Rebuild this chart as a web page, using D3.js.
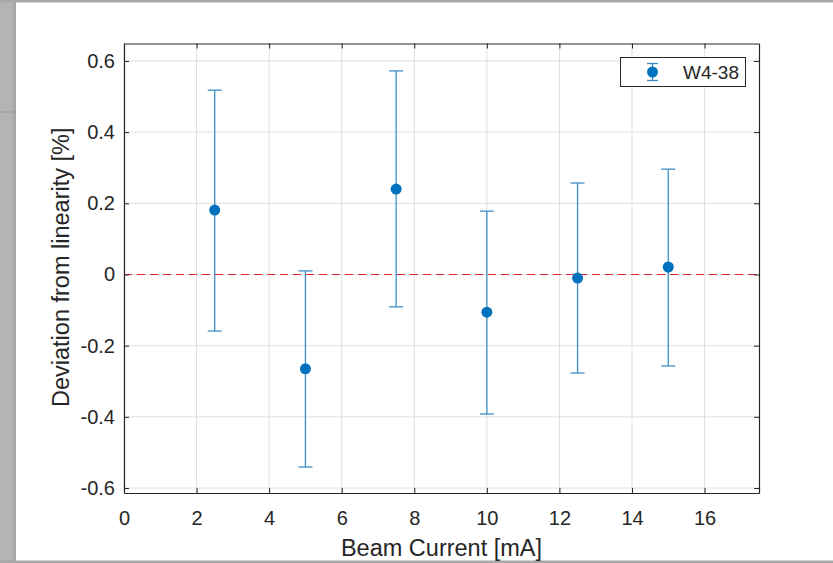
<!DOCTYPE html>
<html>
<head>
<meta charset="utf-8">
<script src="https://cdn.jsdelivr.net/npm/d3@7"></script>
<style>
  body { margin: 0; background: #fff; }
  svg { display: block; font-family: "Liberation Sans", Arial, sans-serif; }
</style>
</head>
<body>
<svg id="chart" width="833" height="563"></svg>
<script>
// data
const currents = [2.5, 5, 7.5, 10, 12.5, 15];
const deviation = [0.181, -0.265, 0.240, -0.106, -0.010, 0.021];
const errUpper = [0.518, 0.010, 0.572, 0.178, 0.257, 0.296];
const errLower = [-0.159, -0.541, -0.091, -0.392, -0.277, -0.257];
const xTicks = [0, 2, 4, 6, 8, 10, 12, 14, 16];
const yTicks = [-0.6, -0.4, -0.2, 0, 0.2, 0.4, 0.6];
const yTickLabels = ["-0.6", "-0.4", "-0.2", "0", "0.2", "0.4", "0.6"];
const seriesName = "W4-38";

const svg = d3.select("#chart");
const W = 833, H = 563;

// screenshot frame (gray strips)
svg.append("rect").attr("x", 0).attr("y", 0).attr("width", 16).attr("height", H).attr("fill", "#b4b4b4");
svg.append("rect").attr("x", 13).attr("y", 0).attr("width", 3).attr("height", H).attr("fill", "#a6a6a6");
svg.append("line").attr("x1", 0).attr("x2", 16).attr("y1", 112).attr("y2", 112).attr("stroke", "#9a9a9a");
svg.append("rect").attr("x", 0).attr("y", 0).attr("width", W).attr("height", 2.5).attr("fill", "#a8a8a8");
svg.append("rect").attr("x", 0).attr("y", 560.5).attr("width", W).attr("height", 2.5).attr("fill", "#a8a8a8");

const pLeft = 124, pRight = 759, pTop = 43.5, pBottom = 493;

const x = d3.scaleLinear().domain([0, 17.5]).range([pLeft, pRight]);
const y = d3.scaleLinear().domain([-0.614, 0.649]).range([pBottom, pTop]);

const axisColor = "#262626";

// grid
const grid = svg.append("g");
grid.selectAll(".gx").data(xTicks).enter().append("line")
  .attr("x1", d => x(d)).attr("x2", d => x(d))
  .attr("y1", pTop).attr("y2", pBottom)
  .attr("stroke", "#dfdfdf").attr("stroke-width", 1);
grid.selectAll(".gy").data(yTicks).enter().append("line")
  .attr("x1", pLeft).attr("x2", pRight)
  .attr("y1", d => y(d)).attr("y2", d => y(d))
  .attr("stroke", "#dfdfdf").attr("stroke-width", 1);

// zero reference line
svg.append("line")
  .attr("x1", pLeft).attr("x2", pRight)
  .attr("y1", y(0)).attr("y2", y(0))
  .attr("stroke", "#e0262a").attr("stroke-width", 1.2)
  .attr("stroke-dasharray", "8,5");

// axes (box on, ticks inward)
const xAxis = svg.append("g").attr("transform", `translate(0,${pBottom})`)
  .call(d3.axisBottom(x).tickValues(xTicks).tickSizeInner(-5).tickSizeOuter(0).tickPadding(18).tickFormat(d => d));
const xAxisTop = svg.append("g").attr("transform", `translate(0,${pTop})`)
  .call(d3.axisTop(x).tickValues(xTicks).tickSizeInner(-5).tickSizeOuter(0).tickFormat(""));
const yAxis = svg.append("g").attr("transform", `translate(${pLeft},0)`)
  .call(d3.axisLeft(y).tickValues(yTicks).tickSizeInner(-5).tickSizeOuter(0).tickPadding(9)
    .tickFormat((d, i) => yTickLabels[i]));
const yAxisRight = svg.append("g").attr("transform", `translate(${pRight},0)`)
  .call(d3.axisRight(y).tickValues(yTicks).tickSizeInner(-5).tickSizeOuter(0).tickFormat(""));

[xAxis, xAxisTop, yAxis, yAxisRight].forEach(g => {
  g.select(".domain").attr("stroke", axisColor).attr("stroke-width", 1.2);
  g.selectAll(".tick line").attr("stroke", axisColor).attr("stroke-width", 1);
  g.selectAll(".tick text").attr("fill", axisColor).style("font-size", "20px")
    .style("font-family", "'Liberation Sans', Arial, sans-serif");
});

// axis labels
svg.append("text")
  .attr("x", x(8.75)).attr("y", 556)
  .attr("text-anchor", "middle").attr("fill", axisColor)
  .style("font-size", "23.5px").text("Beam Current [mA]");
svg.append("text")
  .attr("transform", `translate(69,${(pTop + pBottom) / 2 - 1}) rotate(-90)`)
  .attr("text-anchor", "middle").attr("fill", axisColor)
  .style("font-size", "23.5px").text("Deviation from linearity [%]");

// error bars
const pts = currents.map((c, i) => ({ x: c, y: deviation[i], hi: errUpper[i], lo: errLower[i] }));
const barColor = "#3f8fc6";
const capW = 7;
const eb = svg.append("g");
eb.selectAll(".stem").data(pts).enter().append("line")
  .attr("x1", d => x(d.x)).attr("x2", d => x(d.x))
  .attr("y1", d => y(d.hi)).attr("y2", d => y(d.lo))
  .attr("stroke", barColor).attr("stroke-width", 1.3);
eb.selectAll(".capT").data(pts).enter().append("line")
  .attr("x1", d => x(d.x) - capW).attr("x2", d => x(d.x) + capW)
  .attr("y1", d => y(d.hi)).attr("y2", d => y(d.hi))
  .attr("stroke", barColor).attr("stroke-width", 1.3);
eb.selectAll(".capB").data(pts).enter().append("line")
  .attr("x1", d => x(d.x) - capW).attr("x2", d => x(d.x) + capW)
  .attr("y1", d => y(d.lo)).attr("y2", d => y(d.lo))
  .attr("stroke", barColor).attr("stroke-width", 1.3);
eb.selectAll("circle").data(pts).enter().append("circle")
  .attr("cx", d => x(d.x)).attr("cy", d => y(d.y)).attr("r", 5.5)
  .attr("fill", "#0072BD");

// legend
const lg = svg.append("g");
lg.append("rect").attr("x", 620.5).attr("y", 57.5).attr("width", 125).attr("height", 29)
  .attr("fill", "#fff").attr("stroke", axisColor).attr("stroke-width", 1);
lg.append("line").attr("x1", 652.5).attr("x2", 652.5).attr("y1", 63.5).attr("y2", 80.5)
  .attr("stroke", barColor).attr("stroke-width", 1.3);
lg.append("line").attr("x1", 647).attr("x2", 658).attr("y1", 63.5).attr("y2", 63.5)
  .attr("stroke", barColor).attr("stroke-width", 1.3);
lg.append("line").attr("x1", 647).attr("x2", 658).attr("y1", 80.5).attr("y2", 80.5)
  .attr("stroke", barColor).attr("stroke-width", 1.3);
lg.append("circle").attr("cx", 652.5).attr("cy", 72).attr("r", 5.5).attr("fill", "#0072BD");
lg.append("text").attr("x", 683).attr("y", 79).attr("fill", axisColor)
  .style("font-size", "19px").text(seriesName);
</script>
</body>
</html>
